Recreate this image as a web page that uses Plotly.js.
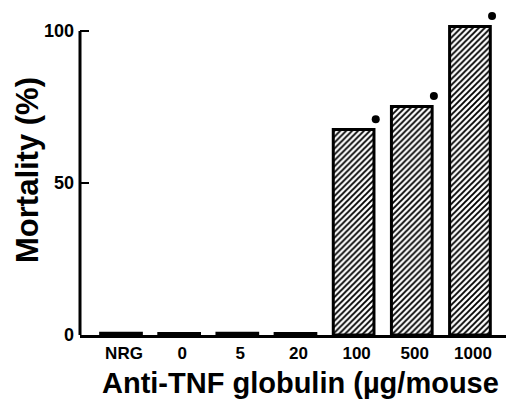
<!DOCTYPE html>
<html>
<head>
<meta charset="utf-8">
<script src="https://cdn.plot.ly/plotly-3.0.1.min.js"></script>
<style>html,body{margin:0;padding:0;background:#fff;}#chart{width:506px;height:400px;}</style>
</head>
<body>
<div id="chart"></div>
<script>
var categories = ["NRG", "0", "5", "20", "100", "500", "1000"];
var mortality = [0.6, 0.5, 0.6, 0.5, 67.6, 75.2, 101.5];
var significant = [false, false, false, false, true, true, true];
var yTickVals = [0, 50, 100];
var yTickText = ["0", "50", "100"];
var xTitle = "Anti-TNF globulin (\u00b5g/mouse";
var yTitle = "Mortality (%)";

var FONT = "Liberation Sans, Arial, Helvetica, sans-serif";
var idx = categories.map(function (c, i) { return i; });

var dotX = [], dotY = [];
idx.forEach(function (i) {
  if (significant[i]) { dotX.push(i + 0.38); dotY.push(mortality[i] + 3.4); }
});

var bars = {
  type: "bar",
  x: idx,
  y: mortality,
  width: 0.7,
  marker: {
    color: "#ffffff",
    pattern: { shape: "/", fgcolor: "#000000", bgcolor: "#ffffff", size: 4.2, solidity: 0.45 },
    line: { color: "#000000", width: 3 }
  },
  hoverinfo: "skip"
};
var dots = {
  type: "scatter",
  mode: "markers",
  x: dotX,
  y: dotY,
  marker: { color: "#000000", size: 8 },
  hoverinfo: "skip"
};

var layout = {
  width: 506,
  height: 400,
  margin: { l: 80, r: 0, t: 5, b: 65 },
  paper_bgcolor: "#ffffff",
  plot_bgcolor: "#ffffff",
  showlegend: false,
  bargap: 0,
  xaxis: {
    range: [-0.705, 6.62],
    tickmode: "array",
    tickvals: idx,
    ticktext: categories,
    ticks: "",
    showgrid: false,
    zeroline: false,
    showline: true,
    linecolor: "#000000",
    linewidth: 3,
    ticklabelshift: 3,
    ticklabelstandoff: 1,
    tickfont: { family: FONT, size: 17, weight: "bold", color: "#000000" }
  },
  yaxis: {
    range: [0, 108.55],
    tickmode: "array",
    tickvals: yTickVals,
    ticktext: yTickText,
    ticks: "inside",
    ticklen: 9,
    tickwidth: 2,
    tickcolor: "#000000",
    showgrid: false,
    zeroline: false,
    showline: false,
    ticklabelstandoff: 5,
    tickfont: { family: FONT, size: 18, weight: "bold", color: "#000000" }
  },
  shapes: [
    { type: "line", xref: "paper", yref: "y", x0: 0, x1: 0, y0: 0, y1: 100,
      line: { color: "#000000", width: 3 } }
  ],
  annotations: [
    { text: yTitle, xref: "paper", yref: "paper", x: 0, y: 0.5,
      xanchor: "center", yanchor: "middle", xshift: -53, textangle: -90,
      showarrow: false, font: { family: FONT, size: 31, weight: "bold", color: "#000000" } },
    { text: xTitle, xref: "paper", yref: "paper", x: 0, y: 0,
      xanchor: "left", yanchor: "middle", xshift: 20, yshift: -48,
      showarrow: false, font: { family: FONT, size: 29, weight: "bold", color: "#000000" } }
  ]
};

Plotly.newPlot("chart", [bars, dots], layout, { staticPlot: true, displayModeBar: false });
</script>
</body>
</html>
